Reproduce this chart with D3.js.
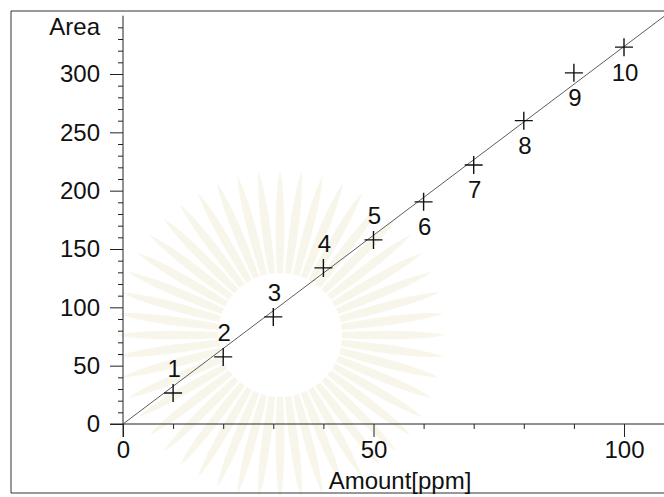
<!DOCTYPE html>
<html>
<head>
<meta charset="utf-8">
<script src="https://cdn.jsdelivr.net/npm/d3@7"></script>
<style>
    html, body { margin: 0; padding: 0; background: #fff; }
    svg { display: block; }
    text { font-family: "Liberation Sans", Arial, sans-serif; fill: #111; }
</style>
</head>
<body>
<svg id="chart" width="664" height="497"></svg>
<script>
'use strict';

// standard concentrations (ppm) and measured peak areas
var amounts = [10, 20, 30, 40, 50, 60, 70, 80, 90, 100];
var areas = [26.6, 57.5, 91.8, 133.8, 157.8, 190.4, 222, 260, 301, 323];
var pointLabels = ['1', '2', '3', '4', '5', '6', '7', '8', '9', '10'];
// labels 1-5 sit above their marker, 6-10 below
var labelAbove = [true, true, true, true, true, false, false, false, false, false];

var xMajor = [0, 50, 100];
var xMinor = [10, 20, 30, 40, 60, 70, 80, 90];
var yMajor = [0, 50, 100, 150, 200, 250, 300];
var yMinor = d3.range(10, 350, 10).filter(function(v) { return v % 50 !== 0; });

var svg = d3.select('#chart');

var x = d3.scaleLinear().domain([0, 100]).range([123, 624]);
var y = d3.scaleLinear().domain([0, 300]).range([424, 74]);

// faint watermark behind the plot (scanned page)
var wm = svg.append('g').attr('class', 'watermark')
    .attr('transform', 'translate(280,335)');
var rays = d3.range(0, 360, 7.5);
wm.selectAll('path.ray')
    .data(rays)
    .enter().append('path')
    .attr('class', 'ray')
    .attr('d', function(a) {
        var r0 = 55, r1 = 165, w = 2.8;
        var p = function(r, da) {
            var t = (a + da) * Math.PI / 180;
            return [r * Math.cos(t), r * Math.sin(t)];
        };
        return 'M' + p(r0, -w) + 'Q' + p(r1 * 0.8, -w * 1.1) + ' ' + p(r1, 0) +
            'Q' + p(r1 * 0.8, w * 1.1) + ' ' + p(r0, w) + 'Z';
    })
    .style('fill', '#f3eedb')
    .style('opacity', 0.55);
wm.append('circle').attr('r', 62).style('fill', '#fff');

// outer frame
svg.append('path')
    .attr('d', 'M700,11H11V493H700')
    .style('fill', 'none')
    .style('stroke', '#333')
    .style('stroke-width', 1);

// minor ticks
var yMinorAxis = d3.axisLeft(y).tickValues(yMinor).tickSize(5).tickFormat('');
var xMinorAxis = d3.axisBottom(x).tickValues(xMinor).tickSize(5).tickFormat('');

svg.append('g').attr('class', 'yminor')
    .attr('transform', 'translate(' + x(0) + ',0)')
    .call(yMinorAxis);
svg.append('g').attr('class', 'xminor')
    .attr('transform', 'translate(0,' + y(0) + ')')
    .call(xMinorAxis);

// major ticks with labels
var yAxis = d3.axisLeft(y).tickValues(yMajor).tickSize(13).tickPadding(10);
var xAxis = d3.axisBottom(x).tickValues(xMajor).tickSize(13).tickPadding(4);

svg.append('g').attr('class', 'yaxis')
    .attr('transform', 'translate(' + x(0) + ',0)')
    .call(yAxis);
svg.append('g').attr('class', 'xaxis')
    .attr('transform', 'translate(0,' + y(0) + ')')
    .call(xAxis);

svg.selectAll('.domain').remove();
svg.selectAll('.tick line').style('stroke', '#222').style('stroke-width', 1);
svg.selectAll('.tick text')
    .style('font-size', '24px')
    .style('fill', '#111')
    .style('font-family', '"Liberation Sans", Arial, sans-serif');

// axis lines
svg.append('line')
    .attr('x1', x(0)).attr('x2', x(0))
    .attr('y1', y(350)).attr('y2', y(0) + 13)
    .style('stroke', '#222');
svg.append('line')
    .attr('x1', x(0) - 13).attr('x2', 664)
    .attr('y1', y(0)).attr('y2', y(0))
    .style('stroke', '#222');

// axis titles
svg.append('text')
    .attr('x', x(0) - 23)
    .attr('y', 35)
    .attr('text-anchor', 'end')
    .style('font-size', '24px')
    .text('Area');

svg.append('text')
    .attr('x', 400)
    .attr('y', 489)
    .attr('text-anchor', 'middle')
    .style('font-size', '24px')
    .text('Amount[ppm]');

// calibration line through the origin (least squares)
var sxy = d3.sum(amounts, function(a, i) { return a * areas[i]; });
var sxx = d3.sum(amounts, function(a) { return a * a; });
var slope = sxy / sxx;
var lineEnd = x.invert(664);

svg.append('line')
    .attr('class', 'fit')
    .attr('x1', x(0)).attr('y1', y(0))
    .attr('x2', x(lineEnd)).attr('y2', y(slope * lineEnd))
    .style('stroke', '#333')
    .style('stroke-width', 0.8);

// plus markers
var pts = amounts.map(function(a, i) {
    return {x: a, y: areas[i], label: pointLabels[i], above: labelAbove[i]};
});

var mark = svg.selectAll('g.pt')
    .data(pts)
    .enter().append('g')
    .attr('class', 'pt')
    .attr('transform', function(d) { return 'translate(' + x(d.x) + ',' + y(d.y) + ')'; });

mark.append('path')
    .attr('d', 'M-9,0H9M0,-9V9')
    .style('stroke', '#111')
    .style('stroke-width', 1.4);

mark.append('text')
    .attr('x', 1)
    .attr('y', function(d) { return d.above ? -24 : 25; })
    .attr('dy', '0.35em')
    .attr('text-anchor', 'middle')
    .style('font-size', '24px')
    .text(function(d) { return d.label; });
</script>
</body>
</html>
